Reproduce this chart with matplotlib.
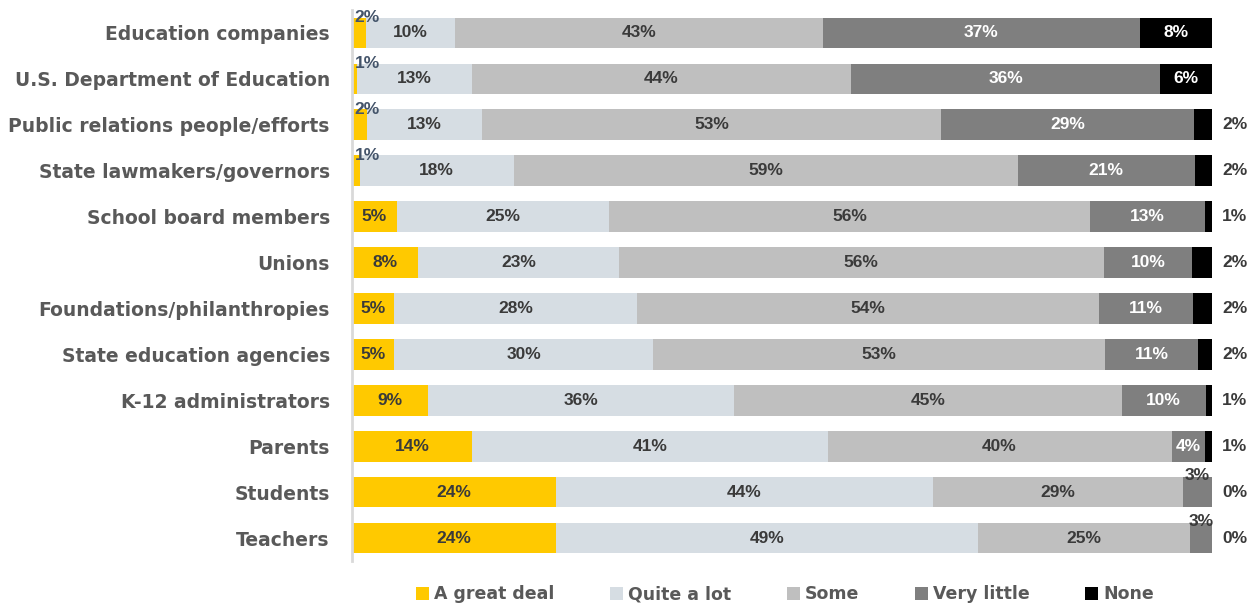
import matplotlib
matplotlib.use("Agg")
import matplotlib.pyplot as plt
import numpy as np

# Categories, top to bottom as shown
categories = [
    "Education companies",
    "U.S. Department of Education",
    "Public relations people/efforts",
    "State lawmakers/governors",
    "School board members",
    "Unions",
    "Foundations/philanthropies",
    "State education agencies",
    "K-12 administrators",
    "Parents",
    "Students",
    "Teachers",
]
series_names = ["A great deal", "Quite a lot", "Some", "Very little", "None"]

# Shares (%); labels are the rounded values
great_deal = [1.6, 0.6, 1.7, 0.9, 5.2, 7.7, 4.9, 4.9, 8.8, 14.0, 23.7, 23.7]
quite_a_lot = [10.4, 13.3, 13.4, 17.9, 24.7, 23.3, 28.2, 30.1, 35.6, 41.3, 43.9, 49.1]
some = [42.8, 44.1, 53.4, 58.6, 55.9, 56.4, 53.8, 52.6, 45.1, 40.0, 29.0, 24.6]
very_little = [36.8, 36.0, 29.4, 20.6, 13.4, 10.3, 10.9, 10.8, 9.8, 3.9, 3.4, 2.6]
none = [8.4, 6.0, 2.1, 2.0, 0.8, 2.3, 2.2, 1.6, 0.7, 0.8, 0.0, 0.0]

colors = ["#FFC900", "#D6DDE3", "#BFBFBF", "#7F7F7F", "#000000"]

fig = plt.figure(figsize=(12.58, 6.07), dpi=100)
ax = fig.add_axes([0.2798, 0.0758, 0.6836, 0.9077])

series = [great_deal, quite_a_lot, some, very_little, none]
y = np.arange(len(categories))
left = np.zeros(len(categories))
bars = []
for vals, col, name in zip(series, colors, series_names):
    b = ax.barh(y, vals, left=left, height=0.67, color=col, label=name)
    bars.append(b)
    left = left + np.array(vals)

ax.set_xlim(0, 100)
ax.set_ylim(len(categories) - 0.5, -0.5)
ax.set_yticks(y)
ax.set_yticklabels(categories, fontsize=13.5, fontweight="bold",
                   color="#595959", family="DejaVu Sans")
ax.tick_params(axis="y", length=0, pad=16)
ax.set_xticks([])
for s in ["top", "right", "bottom"]:
    ax.spines[s].set_visible(False)
ax.spines["left"].set_color("#D9D9D9")
ax.spines["left"].set_linewidth(2)

lab_kw = dict(fontsize=12.5, fontweight="bold", family="Liberation Sans")
dark = "#3A3A3A"

# Value labels
for si, vals in enumerate(series):
    starts = np.zeros(len(categories))
    for k in range(si):
        starts = starts + np.array(series[k])
    for i, v in enumerate(vals):
        txt = f"{round(v):.0f}%"
        x0 = starts[i]
        if si == 0 and v < 3:
            # tiny share: sits on top edge of the bar
            ax.text(x0 + 0.3, i - 0.33, txt, ha="left", va="center",
                    color="#44546A", **lab_kw)
        elif si == 3 and v < 3.5 and none[i] == 0:
            ax.text(x0 + v / 2, i - 0.36, txt, ha="center", va="center",
                    color=dark, **lab_kw)
        elif si == 4 and v < 5:
            ax.text(101.2, i, txt, ha="left", va="center",
                    color=dark, **lab_kw)
        else:
            col = "white" if si >= 3 else dark
            ax.text(x0 + v / 2, i, txt, ha="center", va="center",
                    color=col, **lab_kw)

leg = fig.legend(handles=bars, labels=series_names, loc="center",
                 bbox_to_anchor=(0.624, 0.021), ncol=5, frameon=False,
                 handlelength=0.75, handleheight=0.75, handletextpad=0.3,
                 columnspacing=3.2,
                 prop={"size": 12.5, "weight": "bold", "family": "DejaVu Sans"})
for t in leg.get_texts():
    t.set_color("#595959")

fig.savefig("out.png", dpi=100)
